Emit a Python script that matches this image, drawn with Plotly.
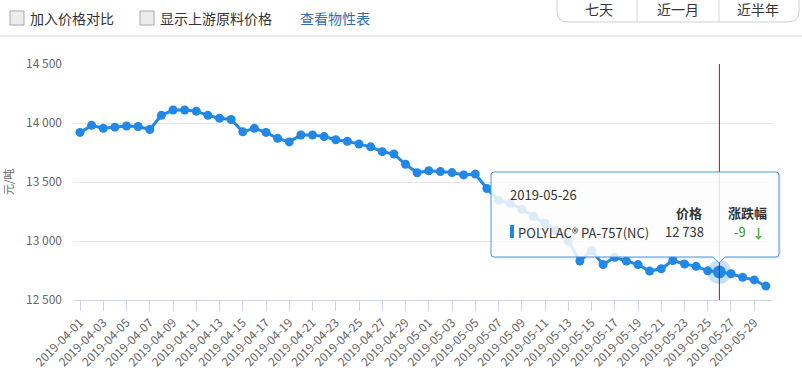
import pandas as pd
import plotly.graph_objects as go

# ---------------- data ----------------
dates = [d.strftime("%Y-%m-%d") for d in pd.date_range("2019-04-01", "2019-05-30", freq="D")]
prices = [13920, 13980, 13955, 13965, 13975, 13970, 13945, 14065, 14110, 14110,
          14100, 14065, 14040, 14030, 13925, 13955, 13920, 13870, 13840, 13898,
          13898, 13885, 13858, 13845, 13822, 13798, 13757, 13737, 13650, 13578,
          13595, 13588, 13580, 13560, 13567, 13445, 13345, 13320, 13270, 13210,
          13150, 13090, 13000, 12830, 12920, 12800, 12862, 12830, 12800, 12745,
          12765, 12835, 12805, 12785, 12747, 12738, 12722, 12692, 12670, 12618]
y_ticks = [12500, 13000, 13500, 14000, 14500]
series_name = "POLYLAC® PA-757(NC)"
hover_date = "2019-05-26"
hover_change = "-9"
top_left_labels = ["加入价格对比", "显示上游原料价格"]
link_label = "查看物性表"
range_buttons = ["七天", "近一月", "近半年"]
y_title = "元/吨"
col_headers = ["价格", "涨跌幅"]

# ---------------- layout geometry ----------------
W, H = 802, 374
L, R, T, B = 73, 30, 64, 74
PW, PH = W - L - R, H - T - B
FONT = "Noto Sans CJK SC, Open Sans, sans-serif"
BLUE = "#2288e6"


def px(x):
    return (x - L) / PW


def py(y):
    return 1 - (y - T) / PH


def rrect(x0, y0, x1, y1, r, pointer=None):
    p = f"M {px(x0 + r):.5f},{py(y0):.5f} L {px(x1 - r):.5f},{py(y0):.5f} "
    p += f"Q {px(x1):.5f},{py(y0):.5f} {px(x1):.5f},{py(y0 + r):.5f} "
    p += f"L {px(x1):.5f},{py(y1 - r):.5f} Q {px(x1):.5f},{py(y1):.5f} {px(x1 - r):.5f},{py(y1):.5f} "
    if pointer is not None:
        ax = pointer
        p += f"L {px(ax + 6):.5f},{py(y1):.5f} L {px(ax):.5f},{py(y1 + 6):.5f} L {px(ax - 6):.5f},{py(y1):.5f} "
    p += f"L {px(x0 + r):.5f},{py(y1):.5f} Q {px(x0):.5f},{py(y1):.5f} {px(x0):.5f},{py(y1 - r):.5f} "
    p += f"L {px(x0):.5f},{py(y0 + r):.5f} Q {px(x0):.5f},{py(y0):.5f} {px(x0 + r):.5f},{py(y0):.5f} Z"
    return p


hi = dates.index(hover_date)

fig = go.Figure()
fig.add_trace(go.Scatter(
    x=dates, y=prices, mode="lines+markers",
    line=dict(color=BLUE, width=3),
    marker=dict(color=BLUE, size=9),
    name=series_name, hoverinfo="skip"))
# highlighted point with halo
fig.add_trace(go.Scatter(
    x=[dates[hi]], y=[prices[hi]], mode="markers",
    marker=dict(color="rgba(34,136,230,0.25)", size=24),
    hoverinfo="skip", showlegend=False))
fig.add_trace(go.Scatter(
    x=[dates[hi]], y=[prices[hi]], mode="markers",
    marker=dict(color=BLUE, size=13),
    hoverinfo="skip", showlegend=False))

shapes = []
annotations = []

# crosshair
shapes.append(dict(type="line", xref="x", yref="paper", x0=dates[hi], x1=dates[hi],
                   y0=0, y1=1, line=dict(color="#a8131c", width=1), layer="above"))

# tooltip shadow + box
shapes.append(dict(type="path", xref="paper", yref="paper",
                   path=rrect(493, 174, 781, 259, 3, pointer=None),
                   fillcolor="rgba(0,0,0,0.06)", line=dict(width=0), layer="above"))
shapes.append(dict(type="path", xref="paper", yref="paper",
                   path=rrect(491, 172, 779, 257, 3, pointer=719),
                   fillcolor="rgba(255,255,255,0.84)",
                   line=dict(color="#4a95dd", width=1), layer="above"))
# series colour bar
shapes.append(dict(type="rect", xref="paper", yref="paper",
                   x0=px(510), x1=px(514), y0=py(238), y1=py(225),
                   fillcolor=BLUE, line=dict(width=0), layer="above"))


def ann(text, x, y, size=12, color="#333", xanchor="left", bold=False):
    if bold:
        text = f"<b>{text}</b>"
    annotations.append(dict(text=text, x=px(x), y=py(y), xref="paper", yref="paper",
                            showarrow=False, xanchor=xanchor, yanchor="middle",
                            font=dict(size=size, color=color, family=FONT)))


ann(hover_date, 508, 194, size=13)
ann(col_headers[0], 704, 212, size=13, xanchor="right", bold=True)
ann(col_headers[1], 747, 212, size=13, xanchor="center", bold=True)
ann(series_name, 516, 232, size=13)
ann(f"{prices[hi]:,}".replace(",", " "), 706, 231, size=13, xanchor="right")
ann(hover_change, 740, 231, size=13, color="#3a9a2a", xanchor="center")
ann("↓", 758, 232, size=13, color="#3fae2f", xanchor="center", bold=True)

# y-axis title
annotations.append(dict(text=y_title, x=px(8), y=py(182), xref="paper", yref="paper",
                        showarrow=False, textangle=-90, xanchor="center", yanchor="middle",
                        font=dict(size=11, color="#666", family=FONT)))

# top controls: checkboxes
for cx, label in zip([10, 140], top_left_labels):
    shapes.append(dict(type="rect", xref="paper", yref="paper",
                       x0=px(cx), x1=px(cx + 14), y0=py(25), y1=py(11),
                       fillcolor="#ececec", line=dict(color="#a8a8a8", width=1)))
    ann(label, cx + 18, 18, size=14, color="#333")
ann(link_label, 298, 18, size=14, color="#2f6db1")

# range buttons
shapes.append(dict(type="path", xref="paper", yref="paper",
                   path=rrect(557, -14, 799, 22, 11),
                   fillcolor="white", line=dict(color="#d0d0d0", width=1)))
for sx in [637, 719]:
    shapes.append(dict(type="line", xref="paper", yref="paper",
                       x0=px(sx), x1=px(sx), y0=py(0), y1=py(22),
                       line=dict(color="#d6d6d6", width=1)))
for bx, label in zip([599, 678, 758], range_buttons):
    ann(label, bx, 9, size=14, color="#333", xanchor="center")

# separator line under controls
shapes.append(dict(type="line", xref="paper", yref="paper",
                   x0=px(0), x1=px(W), y0=py(36), y1=py(36),
                   line=dict(color="#d9d9d9", width=1)))

fig.update_layout(
    width=W, height=H,
    margin=dict(l=L, r=R, t=T, b=B),
    paper_bgcolor="white", plot_bgcolor="white",
    showlegend=False, hovermode=False,
    separators=". ",
    font=dict(family=FONT, size=12, color="#666"),
    shapes=shapes, annotations=annotations,
)
fig.update_xaxes(
    type="date", automargin=False,
    range=["2019-03-31 09:30", "2019-05-30 12:40"],
    tick0="2019-04-01", dtick=2 * 86400000, tickformat="%Y-%m-%d",
    tickangle=-45, ticks="outside", ticklen=10, tickcolor="#ccd6eb",
    showline=True, linecolor="#ccd6eb", linewidth=1,
    showgrid=False, zeroline=False,
    tickfont=dict(size=12, color="#666", family=FONT),
)
fig.update_yaxes(
    automargin=False,
    range=[12500, 14500], tickvals=y_ticks, tickformat=",d",
    showgrid=True, gridcolor="#e6e6e6", zeroline=False,
    ticks="", ticklabelstandoff=10,
    tickfont=dict(size=12, color="#666", family=FONT),
)

fig.write_html("out.html", config={"displayModeBar": False},
               post_script="document.body.style.margin='0';document.body.style.overflow='hidden';")
